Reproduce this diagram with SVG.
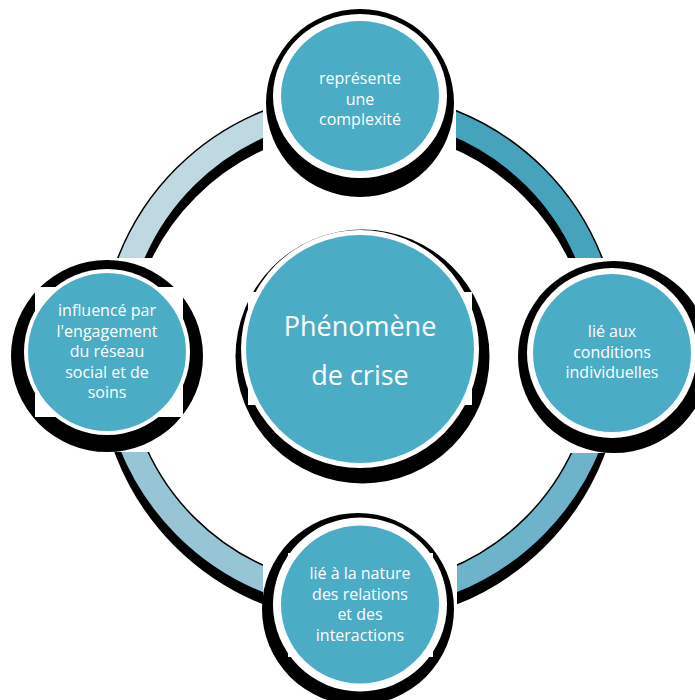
<svg xmlns="http://www.w3.org/2000/svg" width="695" height="700" viewBox="0 0 695 700">
<style>
.sh{fill:#000}
.wh{fill:#fff}
.tl{fill:#4BACC6}
.t{font-family:"Open Sans","Noto Sans",sans-serif;font-size:16px;fill:#fff;text-anchor:middle}
.tb{font-family:"Open Sans","Noto Sans",sans-serif;font-size:27px;fill:#fff;text-anchor:middle}
.arcsh{fill:none;stroke:#000;stroke-width:30}
.arcol{fill:none;stroke:#000;stroke-width:27}
.arc{fill:none;stroke-width:24}
</style>
<rect width="695" height="700" fill="#fff"/>
<g id="connectors">
  <g transform="translate(0,9)">
    <path class="arcsh" d="M360 105 A247 247 0 0 1 607 352"/>
    <path class="arcsh" d="M607 352 A247 247 0 0 1 360 599"/>
    <path class="arcsh" d="M360 599 A247 247 0 0 1 113 352"/>
    <path class="arcsh" d="M113 352 A247 247 0 0 1 360 105"/>
  </g>
  <path class="arcol" d="M360 105 A247 247 0 0 1 607 352"/>
  <path class="arcol" d="M607 352 A247 247 0 0 1 360 599"/>
  <path class="arcol" d="M360 599 A247 247 0 0 1 113 352"/>
  <path class="arcol" d="M113 352 A247 247 0 0 1 360 105"/>
  <path class="arc" stroke="#45A3BC" d="M360 105 A247 247 0 0 1 607 352"/>
  <path class="arc" stroke="#6DB3CA" d="M607 352 A247 247 0 0 1 360 599"/>
  <path class="arc" stroke="#97C5D5" d="M360 599 A247 247 0 0 1 113 352"/>
  <path class="arc" stroke="#BFD9E3" d="M113 352 A247 247 0 0 1 360 105"/>
</g>
<g id="bboxes" class="wh">
  <rect x="263" y="0" width="193" height="193"/>
  <rect x="515" y="258" width="194" height="195"/>
  <rect x="263" y="507" width="194" height="193"/>
  <rect x="10" y="258" width="194" height="194"/>
</g>
<g id="center">
  <circle class="sh" cx="362.5" cy="356.5" r="127"/>
  <rect class="wh" x="248" y="292" width="224" height="113"/>
  <circle class="wh" cx="360" cy="349" r="119"/>
  <circle class="tl" cx="360" cy="349" r="114"/>
  <text class="tb" x="360" y="336">Phénomène</text>
  <text class="tb" x="360" y="385">de crise</text>
</g>
<g id="top">
  <circle class="sh" cx="360" cy="103" r="94"/>
  <ellipse class="wh" cx="360" cy="96" rx="87" ry="82"/>
  <ellipse class="tl" cx="360" cy="96" rx="79" ry="75"/>
  <text class="t" x="360" y="84">représente</text>
  <text class="t" x="360" y="104.5">une</text>
  <text class="t" x="360" y="125">complexité</text>
</g>
<g id="right">
  <circle class="sh" cx="614" cy="357" r="96"/>
  <circle class="wh" cx="612" cy="353" r="85"/>
  <circle class="tl" cx="612" cy="353" r="79"/>
  <text class="t" x="612" y="337">lié aux</text>
  <text class="t" x="612" y="357.5">conditions</text>
  <text class="t" x="612" y="378">individuelles</text>
</g>
<g id="bottom">
  <circle class="sh" cx="358" cy="609" r="96"/>
  <rect class="wh" x="288" y="553" width="145" height="104"/>
  <circle class="wh" cx="360" cy="604.5" r="87"/>
  <circle class="tl" cx="360" cy="604.5" r="79"/>
  <text class="t" x="360" y="579">lié à la nature</text>
  <text class="t" x="360" y="599.5">des relations</text>
  <text class="t" x="360" y="620">et des</text>
  <text class="t" x="360" y="640.5">interactions</text>
</g>
<g id="left">
  <circle class="sh" cx="107" cy="356" r="96"/>
  <rect class="wh" x="35" y="287" width="148" height="130"/>
  <circle class="wh" cx="107" cy="352" r="83"/>
  <circle class="tl" cx="107" cy="352" r="79"/>
  <text class="t" x="107" y="316">influencé par</text>
  <text class="t" x="107" y="336.5">l'engagement</text>
  <text class="t" x="107" y="357">du réseau</text>
  <text class="t" x="107" y="377.5">social et de</text>
  <text class="t" x="107" y="398">soins</text>
</g>
</svg>
